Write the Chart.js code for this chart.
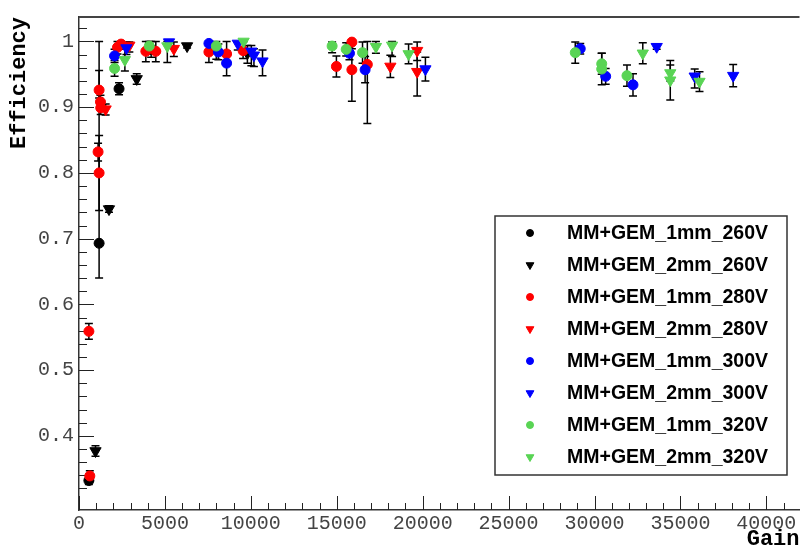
<!DOCTYPE html>
<html>
<head>
<meta charset="utf-8">
<script src="https://cdn.jsdelivr.net/npm/chart.js@4.4.0/dist/chart.umd.min.js"></script>
<style>
  html, body { margin: 0; padding: 0; background: #fff; overflow: hidden; }
</style>
</head>
<body>
<canvas id="eff" width="807" height="550"></canvas>
<script>
// --- data (gain, efficiency, lower / upper error) ---
const seriesNames = [
  "MM+GEM_1mm_260V", "MM+GEM_2mm_260V",
  "MM+GEM_1mm_280V", "MM+GEM_2mm_280V",
  "MM+GEM_1mm_300V", "MM+GEM_2mm_300V",
  "MM+GEM_1mm_320V", "MM+GEM_2mm_320V",
];

const gain_1mm_260 = [575, 1170, 2330, 4200];
const eff_1mm_260 = [0.332, 0.693, 0.928, 0.988];
const lo_1mm_260 = [0.006, 0.053, 0.009, 0.012];
const hi_1mm_260 = [0.006, 0.307, 0.009, 0.012];

const gain_2mm_260 = [960, 1745, 3360, 6290, 9800];
const eff_2mm_260 = [0.377, 0.745, 0.943, 0.993, 0.982];
const lo_2mm_260 = [0.008, 0.005, 0.008, 0.003, 0.015];
const hi_2mm_260 = [0.008, 0.005, 0.008, 0.003, 0.012];

const gain_1mm_280 = [630, 575, 1110, 1170, 1170, 1250, 1265, 2240, 2450, 3890, 4470, 7560, 8590, 9550, 14980, 15880, 15880, 16780];
const eff_1mm_280 = [0.339, 0.559, 0.832, 0.800, 0.926, 0.908, 0.899, 0.991, 0.996, 0.985, 0.985, 0.984, 0.981, 0.986, 0.962, 0.999, 0.957, 0.965];
const lo_1mm_280 = [0.008, 0.012, 0.014, 0.057, 0.012, 0.010, 0.010, 0.010, 0.008, 0.016, 0.016, 0.016, 0.015, 0.012, 0.016, 0.010, 0.048, 0.090];
const hi_1mm_280 = [0.008, 0.012, 0.013, 0.057, 0.030, 0.010, 0.010, 0.009, 0.004, 0.015, 0.015, 0.016, 0.019, 0.013, 0.016, 0.001, 0.040, 0.035];

const gain_2mm_280 = [1550, 2930, 5520, 18120, 19680, 19680];
const eff_2mm_280 = [0.897, 0.994, 0.989, 0.962, 0.986, 0.954];
const lo_2mm_280 = [0.009, 0.010, 0.012, 0.017, 0.015, 0.037];
const hi_2mm_280 = [0.008, 0.005, 0.010, 0.017, 0.013, 0.030];

const gain_1mm_300 = [2070, 7560, 8110, 8590, 15740, 16650, 29170, 30650, 32240];
const eff_1mm_300 = [0.978, 0.997, 0.984, 0.967, 0.982, 0.957, 0.989, 0.947, 0.934];
const lo_1mm_300 = [0.010, 0.012, 0.012, 0.019, 0.010, 0.020, 0.008, 0.012, 0.017];
const hi_1mm_300 = [0.010, 0.003, 0.012, 0.019, 0.010, 0.020, 0.008, 0.012, 0.017];

const gain_2mm_300 = [2760, 5240, 9240, 10030, 10180, 10680, 20160, 33620, 35830, 38070];
const eff_2mm_300 = [0.990, 0.999, 0.997, 0.985, 0.979, 0.970, 0.958, 0.992, 0.947, 0.948];
const lo_2mm_300 = [0.010, 0.008, 0.010, 0.022, 0.017, 0.022, 0.018, 0.004, 0.018, 0.017];
const hi_2mm_300 = [0.009, 0.001, 0.003, 0.009, 0.010, 0.017, 0.018, 0.004, 0.011, 0.017];

const gain_1mm_320 = [2070, 4090, 7990, 14730, 15550, 16500, 28880, 30420, 30420, 31890];
const eff_1mm_320 = [0.959, 0.993, 0.993, 0.993, 0.988, 0.983, 0.983, 0.966, 0.958, 0.948];
const lo_1mm_320 = [0.012, 0.012, 0.020, 0.010, 0.010, 0.016, 0.016, 0.016, 0.024, 0.016];
const hi_1mm_320 = [0.012, 0.007, 0.007, 0.006, 0.010, 0.016, 0.016, 0.016, 0.024, 0.016];

const gain_2mm_320 = [2670, 5140, 9580, 17280, 18220, 19180, 32810, 34410, 34410, 36110];
const eff_2mm_320 = [0.972, 0.993, 1.000, 0.992, 0.994, 0.981, 0.982, 0.952, 0.941, 0.939];
const lo_2mm_320 = [0.017, 0.025, 0.010, 0.010, 0.017, 0.015, 0.016, 0.012, 0.030, 0.015];
const hi_2mm_320 = [0.017, 0.007, 0.000, 0.008, 0.006, 0.015, 0.016, 0.012, 0.030, 0.015];

const xTickValues = [0, 5000, 10000, 15000, 20000, 25000, 30000, 35000, 40000];
const xTickLabels = ["0", "5000", "10000", "15000", "20000", "25000", "30000", "35000", "40000"];
const yTickValues = [0.4, 0.5, 0.6, 0.7, 0.8, 0.9, 1.0];
const yTickLabels = ["0.4", "0.5", "0.6", "0.7", "0.8", "0.9", "1"];

const colors = ["#000000", "#000000", "#ff0000", "#ff0000", "#0000ff", "#0000ff", "#59d454", "#59d454"];

const gains = [gain_1mm_260, gain_2mm_260, gain_1mm_280, gain_2mm_280, gain_1mm_300, gain_2mm_300, gain_1mm_320, gain_2mm_320];
const effs = [eff_1mm_260, eff_2mm_260, eff_1mm_280, eff_2mm_280, eff_1mm_300, eff_2mm_300, eff_1mm_320, eff_2mm_320];
const los = [lo_1mm_260, lo_2mm_260, lo_1mm_280, lo_2mm_280, lo_1mm_300, lo_2mm_300, lo_1mm_320, lo_2mm_320];
const his = [hi_1mm_260, hi_2mm_260, hi_1mm_280, hi_2mm_280, hi_1mm_300, hi_2mm_300, hi_1mm_320, hi_2mm_320];

const datasets = seriesNames.map((name, i) => {
  const tri = i % 2 === 1;
  return {
    label: name,
    data: gains[i].map((g, k) => ({ x: g, y: effs[i][k], lo: los[i][k], hi: his[i][k] })),
    pointStyle: tri ? "triangle" : "circle",
    rotation: tri ? 180 : 0,
    pointRadius: tri ? 6.5 : 5,
    pointBorderWidth: 1,
    backgroundColor: colors[i],
    borderColor: colors[i],
    showLine: false,
    order: 7 - i, // later series drawn on top, like ROOT
  };
});

// ROOT-like frame: inward ticks, top frame line, then the error bars
const rootFrame = {
  id: "rootFrame",
  beforeDatasetsDraw(chart) {
    const { ctx, chartArea: a, scales } = chart;
    ctx.save();
    ctx.strokeStyle = "#222";
    ctx.lineWidth = 1;
    ctx.beginPath();
    for (let v = 0.32; v < 1.035; v += 0.02) {
      const major = Math.abs(v * 10 - Math.round(v * 10)) < 1e-6;
      const y = Math.round(scales.y.getPixelForValue(v)) + 0.5;
      ctx.moveTo(a.left, y);
      ctx.lineTo(a.left + (major ? 15 : 8), y);
    }
    for (let v = 0; v <= 41000; v += 1000) {
      const major = v % 5000 === 0;
      const x = Math.round(scales.x.getPixelForValue(v)) + 0.5;
      ctx.moveTo(x, a.bottom);
      ctx.lineTo(x, a.bottom - (major ? 14 : 7));
    }
    ctx.stroke();
    ctx.lineWidth = 2;
    ctx.strokeStyle = "#444";
    ctx.beginPath();
    ctx.moveTo(a.left, a.top);
    ctx.lineTo(a.right, a.top);
    ctx.stroke();

    // error bars
    ctx.strokeStyle = "#000";
    ctx.lineWidth = 1.5;
    chart.data.datasets.forEach((ds) => {
      ds.data.forEach((p) => {
        const x = scales.x.getPixelForValue(p.x);
        const y1 = scales.y.getPixelForValue(p.y + p.hi);
        const y2 = scales.y.getPixelForValue(p.y - p.lo);
        ctx.beginPath();
        ctx.moveTo(x, y1);
        ctx.lineTo(x, y2);
        ctx.moveTo(x - 4, y1);
        ctx.lineTo(x + 4, y1);
        ctx.moveTo(x - 4, y2);
        ctx.lineTo(x + 4, y2);
        ctx.stroke();
      });
    });
    ctx.restore();
  },
};

// legend box in the lower right, drawn like a TLegend
const rootLegend = {
  id: "rootLegend",
  afterDraw(chart) {
    const { ctx } = chart;
    const box = { left: 495, top: 216, right: 787, bottom: 475 };
    ctx.save();
    ctx.fillStyle = "#fff";
    ctx.fillRect(box.left, box.top, box.right - box.left, box.bottom - box.top);
    ctx.strokeStyle = "#333";
    ctx.lineWidth = 1.5;
    ctx.strokeRect(box.left, box.top, box.right - box.left, box.bottom - box.top);
    ctx.font = 'bold 19.5px "Liberation Sans", Arial, sans-serif';
    ctx.textBaseline = "middle";
    ctx.textAlign = "left";
    chart.data.datasets.forEach((ds, i) => {
      const y = 233 + i * 32;
      ctx.fillStyle = ds.backgroundColor;
      ctx.strokeStyle = ds.borderColor;
      ctx.lineWidth = 1;
      Chart.helpers.drawPoint(ctx, {
        pointStyle: ds.pointStyle,
        rotation: ds.rotation,
        radius: ds.pointStyle === "triangle" ? 4.5 : 3.5,
        borderWidth: 1,
      }, 530, y);
      ctx.fillStyle = "#000";
      ctx.fillText(ds.label, 567, y + 1);
    });
    ctx.restore();
  },
};

const tickFont = { family: '"Liberation Mono", "Courier New", monospace', size: 20 };
const titleFont = { family: '"Liberation Mono", "Courier New", monospace', size: 22, weight: "bold", lineHeight: 1 };

new Chart(document.getElementById("eff"), {
  type: "scatter",
  data: { datasets: datasets },
  options: {
    responsive: false,
    animation: false,
    devicePixelRatio: 1,
    layout: { padding: { left: 0, top: 6, right: 0, bottom: 0 } },
    plugins: { legend: { display: false }, tooltip: { enabled: false } },
    scales: {
      x: {
        type: "linear",
        min: 0,
        max: 41930,
        afterFit: (scale) => { scale.height = 40; },
        afterBuildTicks: (scale) => { scale.ticks = xTickValues.map((v) => ({ value: v })); },
        ticks: {
          autoSkip: false,
          maxRotation: 0,
          padding: 2,
          color: "#444",
          font: tickFont,
          callback: (v, i) => xTickLabels[i],
        },
        grid: { display: false, drawTicks: false },
        border: { display: true, color: "#333", width: 1.5 },
        title: { display: true, text: "Gain", align: "end", color: "#000", font: titleFont, padding: { top: 0, bottom: 0 } },
      },
      y: {
        type: "linear",
        min: 0.2872,
        max: 1.0372,
        afterFit: (scale) => { scale.width = 79; },
        afterBuildTicks: (scale) => { scale.ticks = yTickValues.map((v) => ({ value: v })); },
        ticks: {
          padding: 5,
          color: "#444",
          font: tickFont,
          callback: (v, i) => yTickLabels[i],
        },
        grid: { display: false, drawTicks: false },
        border: { display: true, color: "#333", width: 1.5 },
        title: { display: true, text: "Efficiency", align: "end", color: "#000", font: titleFont, padding: { top: 8, bottom: 0 } },
      },
    },
  },
  plugins: [rootFrame, rootLegend],
});
</script>
</body>
</html>
